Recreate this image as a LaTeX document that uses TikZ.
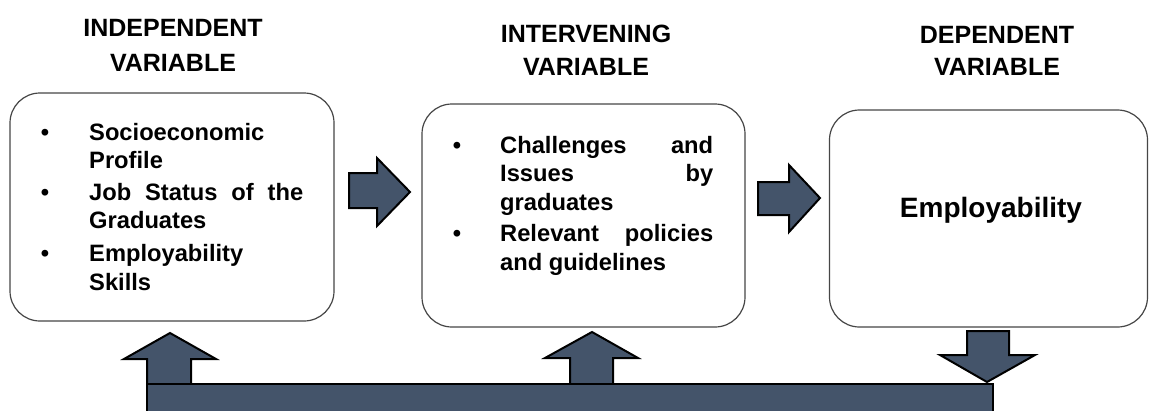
\documentclass[tikz,border=0pt]{standalone}
\usepackage{fontspec}
\setmainfont{Liberation Sans}
\definecolor{arrowfill}{RGB}{68,84,106}
\definecolor{boxline}{RGB}{70,70,70}
\begin{document}
\begin{tikzpicture}[x=1pt,y=-1pt,
  box/.style={draw=boxline, line width=1.2pt, rounded corners=30pt, fill=white, inner sep=0pt},
  blockarrow/.style={draw=black, line width=2pt, fill=arrowfill, line join=miter},
  heading/.style={font=\fontsize{25}{30}\selectfont\bfseries, anchor=base, inner sep=0pt},
  itemtext/.style={font=\fontsize{23.7}{28}\selectfont\bfseries, anchor=base west, inner sep=0pt},
  bulletmark/.style={font=\fontsize{23.7}{28}\selectfont\bfseries, anchor=base, inner sep=0pt}]
\useasboundingbox (0,0) rectangle (1149,410);
\clip (0,0) rectangle (1149,410);

% column headings
\node[heading] (h1a) at (173,36) {INDEPENDENT};
\node[heading] (h1b) at (173,71) {VARIABLE};
\node[heading] (h2a) at (586,42) {INTERVENING};
\node[heading] (h2b) at (586,75) {VARIABLE};
\node[heading] (h3a) at (997,43) {DEPENDENT};
\node[heading] (h3b) at (997,75) {VARIABLE};

% the three variable boxes
\node[box, minimum width=324pt, minimum height=228pt] (indep) at (172,207) {};
\node[box, minimum width=323pt, minimum height=223pt] (interv) at (583.5,215.5) {};
\node[box, minimum width=318pt, minimum height=217pt] (dep) at (988.5,218.5) {};

% independent variable items
\node[bulletmark] (b1) at (45,140) {•};
\node[itemtext] (t1a) at (89,140) {Socioeconomic};
\node[itemtext] (t1b) at (89,168) {Profile};
\node[bulletmark] (b2) at (45,200) {•};
\node[itemtext] (t2a) at (89,200) {\makebox[214pt][s]{Job Status of the}};
\node[itemtext] (t2b) at (89,228) {Graduates};
\node[bulletmark] (b3) at (45,261) {•};
\node[itemtext] (t3a) at (89,261) {Employability};
\node[itemtext] (t3b) at (89,290) {Skills};

% intervening variable items
\node[bulletmark] (b4) at (457,153) {•};
\node[itemtext] (t4a) at (500,153) {\makebox[213pt][s]{Challenges and}};
\node[itemtext] (t4b) at (500,181.5) {\makebox[213pt][s]{Issues by}};
\node[itemtext] (t4c) at (500,210) {graduates};
\node[bulletmark] (b5) at (457,241) {•};
\node[itemtext] (t5a) at (500,241) {\makebox[213pt][s]{Relevant policies}};
\node[itemtext] (t5b) at (500,270) {and guidelines};

% dependent variable
\node[font=\fontsize{28}{32}\selectfont\bfseries, anchor=base, inner sep=0pt] (t6) at (991,217) {Employability};

% block arrows between the boxes
\draw[blockarrow] (349,173) -- (377,173) -- (377,158) -- (410,192) -- (377,226) -- (377,208) -- (349,208) -- cycle;
\draw[blockarrow] (758,182) -- (789,182) -- (789,165) -- (820,198) -- (789,232) -- (789,215) -- (758,215) -- cycle;

% feedback loop: down from the dependent box, along the bar, up into the others
\draw[blockarrow] (147,384) -- (147,359) -- (124,359) -- (170,333) -- (216,359) -- (191,359) -- (191,384) -- cycle;
\draw[blockarrow] (570,384) -- (570,358) -- (545,358) -- (592,332) -- (638,358) -- (613,358) -- (613,384) -- cycle;
\draw[blockarrow] (967,331) -- (1009,331) -- (1009,355) -- (1035,355) -- (987,382) -- (940,355) -- (967,355) -- cycle;
\draw[blockarrow] (147,384) rectangle (993,420);
\end{tikzpicture}
\end{document}
